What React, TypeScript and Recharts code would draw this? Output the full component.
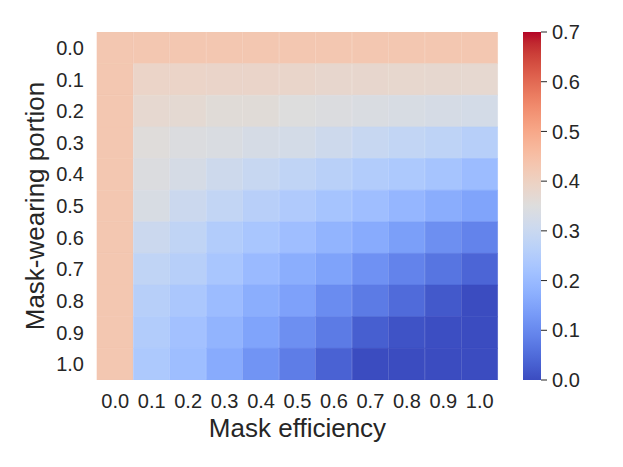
import React from 'react';
import { BarChart, Bar, XAxis, YAxis, Cell, Label } from 'recharts';

const efficiencyLabels = ['0.0', '0.1', '0.2', '0.3', '0.4', '0.5', '0.6', '0.7', '0.8', '0.9', '1.0'];
const portionLabels = ['0.0', '0.1', '0.2', '0.3', '0.4', '0.5', '0.6', '0.7', '0.8', '0.9', '1.0'];
const colorbarTicks = [0, 0.1, 0.2, 0.3, 0.4, 0.5, 0.6, 0.7];

// rows = mask-wearing portion (0.0 .. 1.0), columns = mask efficiency (0.0 .. 1.0)
const row00 = [0.43, 0.43, 0.43, 0.43, 0.43, 0.43, 0.43, 0.43, 0.43, 0.43, 0.43];
const row01 = [0.43, 0.39, 0.39, 0.388, 0.388, 0.385, 0.38, 0.38, 0.378, 0.376, 0.375];
const row02 = [0.43, 0.375, 0.37, 0.36, 0.36, 0.35, 0.345, 0.34, 0.335, 0.33, 0.325];
const row03 = [0.43, 0.355, 0.345, 0.34, 0.33, 0.325, 0.31, 0.295, 0.285, 0.275, 0.26];
const row04 = [0.43, 0.345, 0.33, 0.31, 0.295, 0.28, 0.265, 0.25, 0.24, 0.225, 0.205];
const row05 = [0.43, 0.335, 0.305, 0.285, 0.262, 0.245, 0.225, 0.21, 0.19, 0.17, 0.15];
const row06 = [0.43, 0.305, 0.28, 0.25, 0.23, 0.21, 0.185, 0.165, 0.14, 0.11, 0.09];
const row07 = [0.43, 0.28, 0.26, 0.23, 0.2, 0.172, 0.148, 0.115, 0.09, 0.065, 0.04];
const row08 = [0.43, 0.26, 0.235, 0.205, 0.172, 0.145, 0.105, 0.075, 0.05, 0.02, 0.0];
const row09 = [0.43, 0.25, 0.218, 0.185, 0.15, 0.11, 0.075, 0.03, 0.01, 0.003, 0.0];
const row10 = [0.43, 0.24, 0.208, 0.165, 0.12, 0.08, 0.035, 0.0, 0.0, 0.0, 0.0];

const rows = [row00, row01, row02, row03, row04, row05, row06, row07, row08, row09, row10];
const VMAX = 0.7;

// matplotlib "coolwarm" colormap control points
const COOLWARM: number[][] = [
  [0.0, 0.2298057, 0.298717966, 0.753683153],
  [0.03125, 0.26623388, 0.353094838, 0.801466763],
  [0.0625, 0.30386891, 0.406535296, 0.84495867],
  [0.09375, 0.342804478, 0.458757618, 0.883725899],
  [0.125, 0.38301334, 0.50941904, 0.917387822],
  [0.15625, 0.424369608, 0.558148092, 0.945619588],
  [0.1875, 0.46666708, 0.604562568, 0.968154911],
  [0.21875, 0.509635204, 0.648280772, 0.98478814],
  [0.25, 0.552953156, 0.688929332, 0.995375608],
  [0.28125, 0.596262162, 0.726149107, 0.999836203],
  [0.3125, 0.639176211, 0.759599947, 0.998151185],
  [0.34375, 0.681291281, 0.788964712, 0.990363227],
  [0.375, 0.722193294, 0.813952739, 0.976574709],
  [0.40625, 0.761464949, 0.834302879, 0.956945269],
  [0.4375, 0.798691636, 0.849786142, 0.931688648],
  [0.46875, 0.833466556, 0.860207984, 0.901068838],
  [0.5, 0.865395197, 0.86541021, 0.865395561],
  [0.53125, 0.897787179, 0.848937047, 0.820880546],
  [0.5625, 0.924127593, 0.827384882, 0.774508472],
  [0.59375, 0.944468518, 0.800927443, 0.726736146],
  [0.625, 0.958852946, 0.769767752, 0.678007945],
  [0.65625, 0.96732803, 0.734132809, 0.628751763],
  [0.6875, 0.969954137, 0.694266682, 0.579375448],
  [0.71875, 0.966811177, 0.650421156, 0.530263762],
  [0.75, 0.958003065, 0.602842431, 0.481775914],
  [0.78125, 0.943660866, 0.551750968, 0.434243684],
  [0.8125, 0.923944917, 0.49730856, 0.387970225],
  [0.84375, 0.89904617, 0.439559467, 0.343229596],
  [0.875, 0.869186849, 0.378313092, 0.300267182],
  [0.90625, 0.834620542, 0.312874446, 0.259301199],
  [0.9375, 0.795631745, 0.24128379, 0.220525627],
  [0.96875, 0.752534934, 0.157246067, 0.184115123],
  [1.0, 0.705673158, 0.01555616, 0.150232812],
];

function coolwarm(t: number): string {
  const x = Math.max(0, Math.min(1, t));
  let i = 0;
  while (i < COOLWARM.length - 2 && COOLWARM[i + 1][0] < x) i++;
  const a = COOLWARM[i];
  const b = COOLWARM[i + 1];
  const f = (x - a[0]) / (b[0] - a[0]);
  const c = [1, 2, 3].map((k) => Math.round(255 * (a[k] + (b[k] - a[k]) * f)));
  return `rgb(${c[0]},${c[1]},${c[2]})`;
}

const FONT = '"Liberation Sans", Arial, Helvetica, sans-serif';
const TEXT = '#262626';

const heatData = efficiencyLabels.map((eff) => {
  const entry: Record<string, any> = { eff };
  rows.forEach((_, i) => {
    entry[`r${i}`] = 1;
  });
  return entry;
});

const cbData = [{ name: 'cb', v: VMAX }];

const XTitle = (props: any) => {
  const vb = props.viewBox;
  return (
    <text x={vb.x + vb.width / 2} y={vb.y + 57} textAnchor="middle" fontSize={26} fontFamily={FONT} fill={TEXT}>
      Mask efficiency
    </text>
  );
};

const YTitle = (props: any) => {
  const vb = props.viewBox;
  const cx = 44;
  const cy = vb.y + vb.height / 2;
  return (
    <text x={cx} y={cy} textAnchor="middle" fontSize={26} fontFamily={FONT} fill={TEXT} transform={`rotate(-90 ${cx} ${cy})`}>
      Mask-wearing portion
    </text>
  );
};

export default function App() {
  const tickStyle = { fontSize: 20, fill: TEXT, fontFamily: FONT };
  return (
    <div style={{ position: 'absolute', left: 0, top: 0, width: 623, height: 467, background: '#fff' }}>
      <div style={{ position: 'absolute', left: 0, top: 0 }}>
        <BarChart
          width={623}
          height={467}
          data={heatData}
          margin={{ top: 32, right: 125, bottom: 0, left: 0 }}
          barCategoryGap={0}
          barGap={0}
        >
          <XAxis
            dataKey="eff"
            type="category"
            height={87}
            interval={0}
            tickLine={false}
            axisLine={false}
            tickSize={0}
            tickMargin={14}
            tick={tickStyle}
          >
            <Label content={XTitle} />
          </XAxis>
          <YAxis
            type="number"
            domain={[0, rows.length]}
            reversed
            width={97}
            ticks={portionLabels.map((_, i) => i + 0.5)}
            tickFormatter={(v: number) => portionLabels[Math.floor(v)]}
            interval={0}
            tickLine={false}
            axisLine={false}
            tickSize={0}
            tickMargin={13}
            tick={tickStyle}
            allowDataOverflow
          >
            <Label content={YTitle} />
          </YAxis>
          {rows.map((row, i) => (
            <Bar key={i} dataKey={`r${i}`} stackId="heat" isAnimationActive={false}>
              {row.map((v, j) => {
                const col = coolwarm(v / VMAX);
                return <Cell key={j} fill={col} stroke={col} strokeWidth={0.6} />;
              })}
            </Bar>
          ))}
        </BarChart>
      </div>
      <div style={{ position: 'absolute', left: 0, top: 0 }}>
        <BarChart
          width={623}
          height={467}
          data={cbData}
          margin={{ top: 32, right: 0, bottom: 87, left: 523 }}
          barCategoryGap={0}
          barGap={0}
        >
          <defs>
            <linearGradient id="cw" x1="0" y1="1" x2="0" y2="0">
              {COOLWARM.map((p, k) => (
                <stop key={k} offset={p[0]} stopColor={coolwarm(p[0])} />
              ))}
            </linearGradient>
          </defs>
          <XAxis dataKey="name" hide />
          <YAxis
            orientation="right"
            type="number"
            domain={[0, VMAX]}
            ticks={colorbarTicks}
            tickFormatter={(v: number) => v.toFixed(1)}
            interval={0}
            width={82}
            axisLine={false}
            tickLine={{ stroke: TEXT, strokeWidth: 1 }}
            tickSize={6}
            tickMargin={5}
            tick={tickStyle}
          />
          <Bar dataKey="v" fill="url(#cw)" isAnimationActive={false} />
        </BarChart>
      </div>
    </div>
  );
}
